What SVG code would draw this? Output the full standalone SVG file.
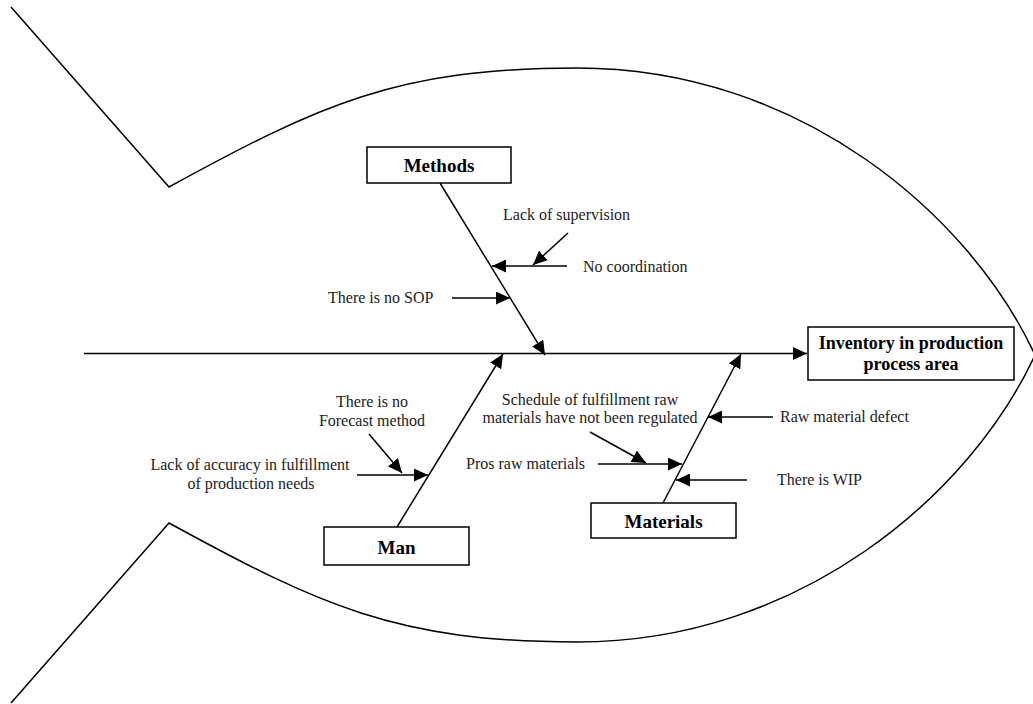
<svg xmlns="http://www.w3.org/2000/svg" width="1033" height="704" viewBox="0 0 1033 704">
<style>
.ln{stroke:#000;stroke-width:1.5;fill:none}
.box{fill:#fff;stroke:#000;stroke-width:1.5}
.t{font-family:"Liberation Serif","Times New Roman",serif;font-size:16px;fill:#222}
.b{font-family:"Liberation Serif","Times New Roman",serif;font-size:19px;font-weight:bold;fill:#000;text-anchor:middle}
.m{text-anchor:middle}
</style>
<defs>
<marker id="ah" markerUnits="userSpaceOnUse" markerWidth="14" markerHeight="13" refX="14" refY="6.5" orient="auto">
<path d="M0,0 L14,6.5 L0,13 z" fill="#000"/>
</marker>
</defs>
<rect width="1033" height="704" fill="#fff"/>
<g id="fish-outline" class="ln">
<path d="M11,7 L169,187 C319,105 397,68 577,68 C800,68 970,215 1035,355"/>
<path d="M11,703 L169,523 C319,605 397,642 577,642 C800,642 970,495 1035,355"/>
</g>
<g id="connectors" class="ln">
<line x1="84" y1="353.5" x2="807" y2="353.5" marker-end="url(#ah)"/>
<line x1="440" y1="183" x2="545" y2="355" marker-end="url(#ah)"/>
<line x1="397" y1="527" x2="503" y2="354" marker-end="url(#ah)"/>
<line x1="663" y1="503" x2="741" y2="354" marker-end="url(#ah)"/>
<line x1="568" y1="233" x2="533" y2="265" marker-end="url(#ah)"/>
<line x1="567" y1="266" x2="492" y2="266" marker-end="url(#ah)"/>
<line x1="452" y1="298" x2="510" y2="298" marker-end="url(#ah)"/>
<line x1="369" y1="434" x2="402" y2="473" marker-end="url(#ah)"/>
<line x1="357" y1="475" x2="428" y2="475" marker-end="url(#ah)"/>
<line x1="590" y1="432" x2="646" y2="463" marker-end="url(#ah)"/>
<line x1="598" y1="464" x2="682" y2="464" marker-end="url(#ah)"/>
<line x1="773" y1="417" x2="708" y2="417" marker-end="url(#ah)"/>
<line x1="747" y1="480" x2="676" y2="480" marker-end="url(#ah)"/>
</g>
<g id="effect">
<rect class="box" x="808" y="327" width="206" height="53"/>
<text class="b" x="911" y="349" style="font-size:18px">Inventory in production</text>
<text class="b" x="911" y="370" style="font-size:18px">process area</text>
</g>
<g id="methods">
<rect class="box" x="367" y="147" width="144" height="36"/>
<text class="b" x="439" y="172">Methods</text>
</g>
<g id="man">
<rect class="box" x="324" y="527" width="145" height="38"/>
<text class="b" x="396.5" y="554">Man</text>
</g>
<g id="materials">
<rect class="box" x="591" y="503" width="145" height="35"/>
<text class="b" x="663.5" y="528">Materials</text>
</g>
<g id="cause-lack-supervision"><text class="t" x="503" y="220">Lack of supervision</text></g>
<g id="cause-no-coordination"><text class="t" x="583" y="272">No coordination</text></g>
<g id="cause-no-sop"><text class="t" x="328" y="303">There is no SOP</text></g>
<g id="cause-no-forecast"><text class="t m" x="372" y="407">There is no</text><text class="t m" x="372" y="426">Forecast method</text></g>
<g id="cause-lack-accuracy"><text class="t m" x="250" y="470">Lack of accuracy in fulfillment</text><text class="t m" x="251" y="489">of production needs</text></g>
<g id="cause-schedule"><text class="t m" x="590" y="405">Schedule of fulfillment raw</text><text class="t m" x="590" y="423">materials have not been regulated</text></g>
<g id="cause-pros-raw"><text class="t" x="466" y="469">Pros raw materials</text></g>
<g id="cause-raw-defect"><text class="t" x="780" y="422">Raw material defect</text></g>
<g id="cause-wip"><text class="t" x="777" y="485">There is WIP</text></g>
</svg>
